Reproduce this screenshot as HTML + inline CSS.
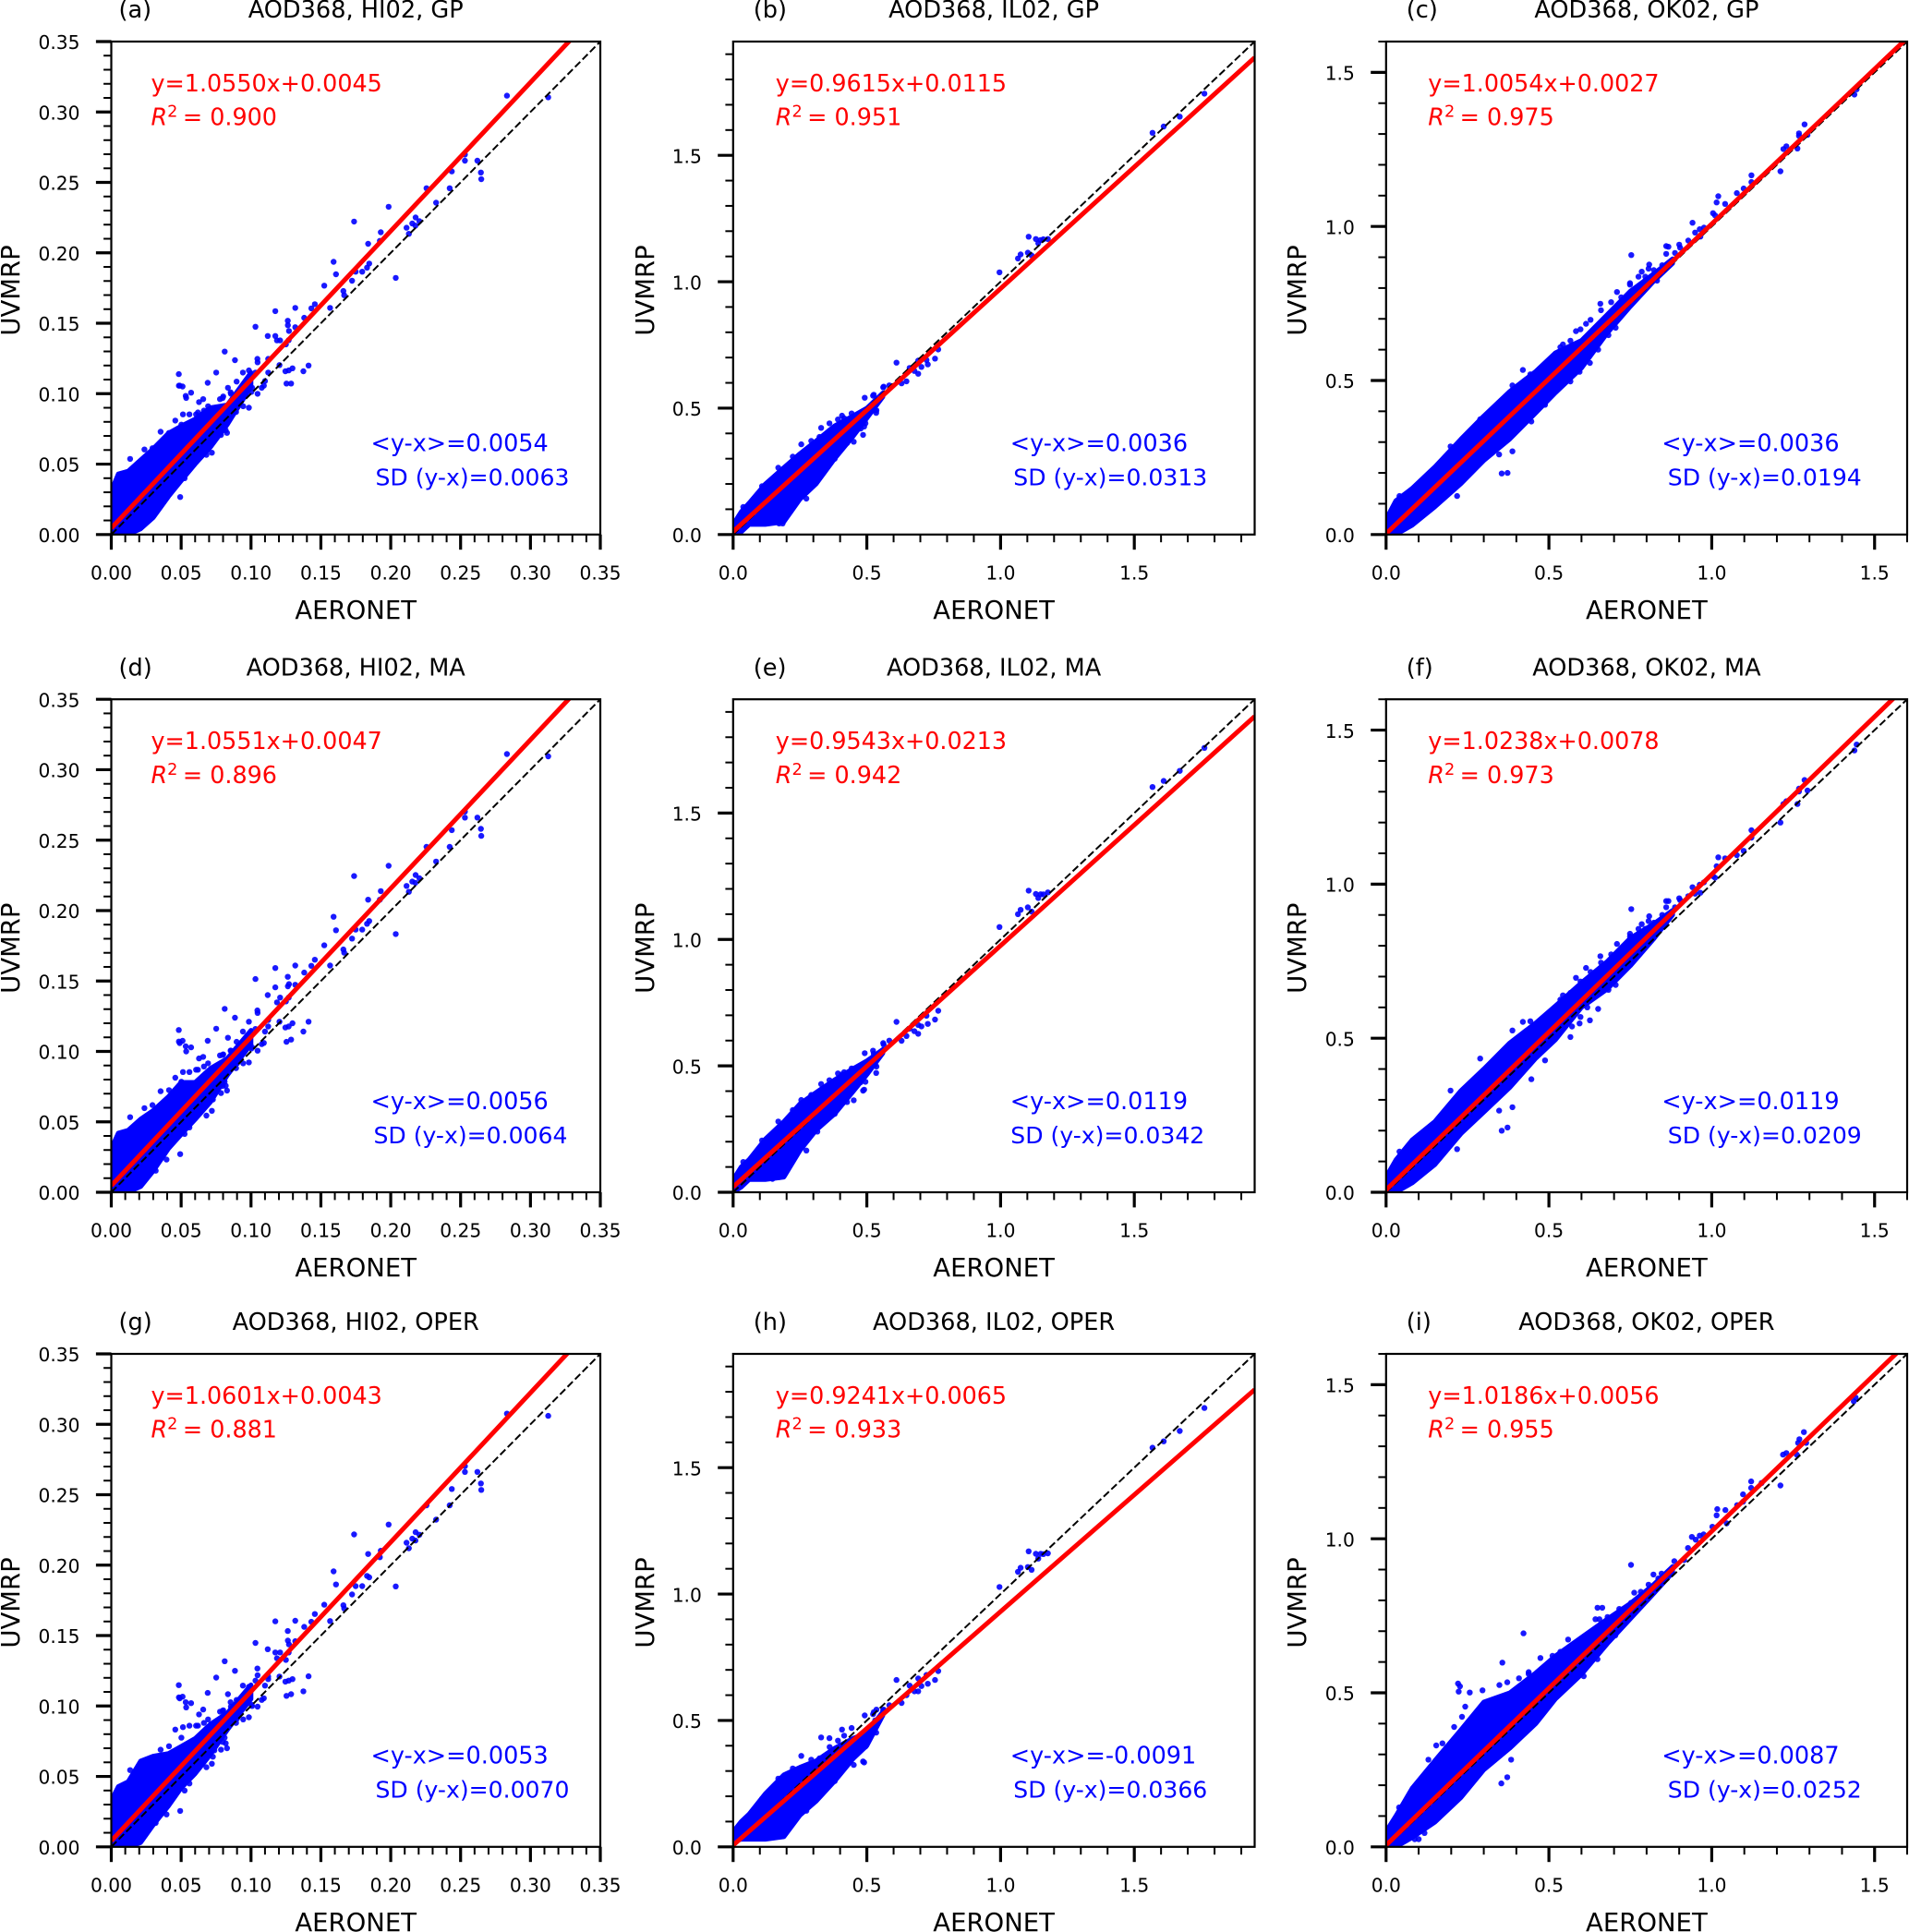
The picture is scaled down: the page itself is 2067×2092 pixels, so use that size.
<!DOCTYPE html>
<html lang="en">
<head>
<meta charset="utf-8">
<title>AOD368 scatter comparison: UVMRP vs AERONET</title>
<style>
html,body{margin:0;padding:0;background:#fff;}
svg{display:block;}
text{font-family:"DejaVu Sans","Liberation Sans",sans-serif;fill:#000;}
.title{font-size:25.6px;text-anchor:middle;}
.plabel{font-size:25.6px;}
.axt{font-size:27.5px;text-anchor:middle;}
.red{font-size:25.4px;fill:#f00;}
.blue{font-size:25.5px;fill:#00f;}
.sd{font-size:25.1px;fill:#00f;}
.tick{font-size:20.2px;}
.frame{fill:none;stroke:#000;stroke-width:2.2;}
</style>
</head>
<body>
<svg id="figure" xmlns="http://www.w3.org/2000/svg" width="2067" height="2092" viewBox="0 0 2067 2092">
<defs>
<clipPath id="clip-c1"><rect width="529.5" height="533.8"/></clipPath>
<clipPath id="clip-c2"><rect width="564.7" height="533.8"/></clipPath>
<clipPath id="clip-c3"><rect width="564.2" height="533.8"/></clipPath>
</defs>
<rect width="2067" height="2092" fill="#fff"/>

<g id="panel-a" transform="translate(120.5,45)">
<g id="marks-a" clip-path="url(#clip-c1)"></g>
<rect class="frame" width="529.5" height="533.8"/>
<g id="ticks-a"></g>
<text class="plabel" x="8" y="-25.9">(a)</text>
<text class="title" x="264.7" y="-25.9">AOD368, HI02, GP</text>
<text class="axt" x="264.7" y="625">AERONET</text>
<text class="axt" transform="translate(-99.5,269.5) rotate(-90)">UVMRP</text>
<text class="red" x="43" y="53.9">y=1.0550x+0.0045</text>
<text class="red" x="43" y="90.6"><tspan font-style="italic">R</tspan><tspan dy="-9" font-size="17.7">2</tspan><tspan dy="9" dx="-2.6"> = 0.900</tspan></text>
<text class="blue" x="281" y="443.6">&lt;y-x&gt;=0.0054</text>
<text class="sd" x="286" y="480.6">SD (y-x)=0.0063</text>
</g>

<g id="panel-b" transform="translate(793.8,45)">
<g id="marks-b" clip-path="url(#clip-c2)"></g>
<rect class="frame" width="564.7" height="533.8"/>
<g id="ticks-b"></g>
<text class="plabel" x="22" y="-25.9">(b)</text>
<text class="title" x="282.3" y="-25.9">AOD368, IL02, GP</text>
<text class="axt" x="282.3" y="625">AERONET</text>
<text class="axt" transform="translate(-86,269.5) rotate(-90)">UVMRP</text>
<text class="red" x="46" y="53.9">y=0.9615x+0.0115</text>
<text class="red" x="46" y="90.6"><tspan font-style="italic">R</tspan><tspan dy="-9" font-size="17.7">2</tspan><tspan dy="9" dx="-2.6"> = 0.951</tspan></text>
<text class="blue" x="300" y="443.6">&lt;y-x&gt;=0.0036</text>
<text class="sd" x="303.5" y="480.6">SD (y-x)=0.0313</text>
</g>

<g id="panel-c" transform="translate(1500.8,45)">
<g id="marks-c" clip-path="url(#clip-c3)"></g>
<rect class="frame" width="564.2" height="533.8"/>
<g id="ticks-c"></g>
<text class="plabel" x="22" y="-25.9">(c)</text>
<text class="title" x="282.1" y="-25.9">AOD368, OK02, GP</text>
<text class="axt" x="282.1" y="625">AERONET</text>
<text class="axt" transform="translate(-87,269.5) rotate(-90)">UVMRP</text>
<text class="red" x="45.5" y="53.9">y=1.0054x+0.0027</text>
<text class="red" x="45.5" y="90.6"><tspan font-style="italic">R</tspan><tspan dy="-9" font-size="17.7">2</tspan><tspan dy="9" dx="-2.6"> = 0.975</tspan></text>
<text class="blue" x="298.5" y="443.6">&lt;y-x&gt;=0.0036</text>
<text class="sd" x="305" y="480.6">SD (y-x)=0.0194</text>
</g>

<g id="panel-d" transform="translate(120.5,757.2)">
<g id="marks-d" clip-path="url(#clip-c1)"></g>
<rect class="frame" width="529.5" height="533.8"/>
<g id="ticks-d"></g>
<text class="plabel" x="8" y="-25.9">(d)</text>
<text class="title" x="264.7" y="-25.9">AOD368, HI02, MA</text>
<text class="axt" x="264.7" y="625">AERONET</text>
<text class="axt" transform="translate(-99.5,269.5) rotate(-90)">UVMRP</text>
<text class="red" x="43" y="53.9">y=1.0551x+0.0047</text>
<text class="red" x="43" y="90.6"><tspan font-style="italic">R</tspan><tspan dy="-9" font-size="17.7">2</tspan><tspan dy="9" dx="-2.6"> = 0.896</tspan></text>
<text class="blue" x="281" y="443.6">&lt;y-x&gt;=0.0056</text>
<text class="sd" x="284" y="480.6">SD (y-x)=0.0064</text>
</g>

<g id="panel-e" transform="translate(793.8,757.2)">
<g id="marks-e" clip-path="url(#clip-c2)"></g>
<rect class="frame" width="564.7" height="533.8"/>
<g id="ticks-e"></g>
<text class="plabel" x="22" y="-25.9">(e)</text>
<text class="title" x="282.3" y="-25.9">AOD368, IL02, MA</text>
<text class="axt" x="282.3" y="625">AERONET</text>
<text class="axt" transform="translate(-86,269.5) rotate(-90)">UVMRP</text>
<text class="red" x="46" y="53.9">y=0.9543x+0.0213</text>
<text class="red" x="46" y="90.6"><tspan font-style="italic">R</tspan><tspan dy="-9" font-size="17.7">2</tspan><tspan dy="9" dx="-2.6"> = 0.942</tspan></text>
<text class="blue" x="300" y="443.6">&lt;y-x&gt;=0.0119</text>
<text class="sd" x="300.5" y="480.6">SD (y-x)=0.0342</text>
</g>

<g id="panel-f" transform="translate(1500.8,757.2)">
<g id="marks-f" clip-path="url(#clip-c3)"></g>
<rect class="frame" width="564.2" height="533.8"/>
<g id="ticks-f"></g>
<text class="plabel" x="22" y="-25.9">(f)</text>
<text class="title" x="282.1" y="-25.9">AOD368, OK02, MA</text>
<text class="axt" x="282.1" y="625">AERONET</text>
<text class="axt" transform="translate(-87,269.5) rotate(-90)">UVMRP</text>
<text class="red" x="45.5" y="53.9">y=1.0238x+0.0078</text>
<text class="red" x="45.5" y="90.6"><tspan font-style="italic">R</tspan><tspan dy="-9" font-size="17.7">2</tspan><tspan dy="9" dx="-2.6"> = 0.973</tspan></text>
<text class="blue" x="298.5" y="443.6">&lt;y-x&gt;=0.0119</text>
<text class="sd" x="305" y="480.6">SD (y-x)=0.0209</text>
</g>

<g id="panel-g" transform="translate(120.5,1466)">
<g id="marks-g" clip-path="url(#clip-c1)"></g>
<rect class="frame" width="529.5" height="533.8"/>
<g id="ticks-g"></g>
<text class="plabel" x="8" y="-25.9">(g)</text>
<text class="title" x="264.7" y="-25.9">AOD368, HI02, OPER</text>
<text class="axt" x="264.7" y="625">AERONET</text>
<text class="axt" transform="translate(-99.5,269.5) rotate(-90)">UVMRP</text>
<text class="red" x="43" y="53.9">y=1.0601x+0.0043</text>
<text class="red" x="43" y="90.6"><tspan font-style="italic">R</tspan><tspan dy="-9" font-size="17.7">2</tspan><tspan dy="9" dx="-2.6"> = 0.881</tspan></text>
<text class="blue" x="281" y="443.6">&lt;y-x&gt;=0.0053</text>
<text class="sd" x="286" y="480.6">SD (y-x)=0.0070</text>
</g>

<g id="panel-h" transform="translate(793.8,1466)">
<g id="marks-h" clip-path="url(#clip-c2)"></g>
<rect class="frame" width="564.7" height="533.8"/>
<g id="ticks-h"></g>
<text class="plabel" x="22" y="-25.9">(h)</text>
<text class="title" x="282.3" y="-25.9">AOD368, IL02, OPER</text>
<text class="axt" x="282.3" y="625">AERONET</text>
<text class="axt" transform="translate(-86,269.5) rotate(-90)">UVMRP</text>
<text class="red" x="46" y="53.9">y=0.9241x+0.0065</text>
<text class="red" x="46" y="90.6"><tspan font-style="italic">R</tspan><tspan dy="-9" font-size="17.7">2</tspan><tspan dy="9" dx="-2.6"> = 0.933</tspan></text>
<text class="blue" x="300" y="443.6">&lt;y-x&gt;=-0.0091</text>
<text class="sd" x="303.5" y="480.6">SD (y-x)=0.0366</text>
</g>

<g id="panel-i" transform="translate(1500.8,1466)">
<g id="marks-i" clip-path="url(#clip-c3)"></g>
<rect class="frame" width="564.2" height="533.8"/>
<g id="ticks-i"></g>
<text class="plabel" x="22" y="-25.9">(i)</text>
<text class="title" x="282.1" y="-25.9">AOD368, OK02, OPER</text>
<text class="axt" x="282.1" y="625">AERONET</text>
<text class="axt" transform="translate(-87,269.5) rotate(-90)">UVMRP</text>
<text class="red" x="45.5" y="53.9">y=1.0186x+0.0056</text>
<text class="red" x="45.5" y="90.6"><tspan font-style="italic">R</tspan><tspan dy="-9" font-size="17.7">2</tspan><tspan dy="9" dx="-2.6"> = 0.955</tspan></text>
<text class="blue" x="298.5" y="443.6">&lt;y-x&gt;=0.0087</text>
<text class="sd" x="305" y="480.6">SD (y-x)=0.0252</text>
</g>
</svg>

<script>
// ---- Values ----
const hiTickLabels = ['0.00','0.05','0.10','0.15','0.20','0.25','0.30','0.35'];
const ilTickLabels = ['0.0','0.5','1.0','1.5'];
const okTickLabels = ['0.0','0.5','1.0','1.5'];
const hiLimit = 0.35, ilLimit = 1.95, okLimit = 1.6;
const hiMinorStep = 0.01, ilMinorStep = 0.1, okMinorStep = 0.1;

const fitSlopes = [1.0550,0.9615,1.0054,1.0551,0.9543,1.0238,1.0601,0.9241,1.0186];
const fitIntercepts = [0.0045,0.0115,0.0027,0.0047,0.0213,0.0078,0.0043,0.0065,0.0056];

// Individually visible points, HI02 station (AERONET x shared across retrievals)
const hiX = [.2832,.3127,.2531,.2531,.2620,.2645,.2648,.2437,.2422,.2256,.2325,.1985,.1738,.1929,.1838,.1922,.2113,.2130,.2154,.2178,.2177,.2205,.1591,.1608,.1749,.1796,.1830,.1846,.1723,.2036,.1524,.1661,.1667,.1457,.1432,.1566,.1317,.1174,.1381,.1263,.1032,.1264,.1272,.1317,.1174,.1120,.1208,.1186,.1250,.1270,.0812,.1046,.1047,.0885,.0985,.1123,.1204,.1297,.1412,.1270,.1246,.1123,.0751,.1032,.0942,.1100,.0483,.1375,.0690,.0835,.0484,.0510,.0490,.0533,.0571,.0536,.0897,.1254,.1287,.1077,.0854,.0950,.1008,.0778,.0801,.0628,.0658,.0985,.0893,.0607,.0663,.0513,.0559,.0458,.0353,.0785,.0819,.0828,.0727,.0720,.0681,.0617,.0295,.0237,.0135,.0493,.0318,.0232,.0395,.0559,.0525,.0797,.0856,.0944,.0767,.0900,.1003,.1047,.0974,.1092,.0693,.0620,.0502,.0413,.0679,.0797,.0811,.0738];
const hiYgp = [.3116,.3104,.2698,.2654,.2654,.2570,.2523,.2578,.2459,.2459,.2356,.2327,.2222,.2146,.2064,.2085,.2178,.2135,.2208,.2251,.2193,.2225,.1936,.1848,.1866,.1866,.1895,.1924,.1802,.1822,.1767,.1729,.1699,.1635,.1606,.1609,.1609,.1586,.1539,.1518,.1475,.1486,.1445,.1472,.1410,.1410,.1378,.1378,.1350,.1380,.1299,.1247,.1223,.1238,.1165,.1247,.1203,.1180,.1200,.1165,.1159,.1150,.1150,.1150,.1150,.1090,.1139,.1159,.1077,.1042,.1057,.1051,.1057,.0984,.1007,.0970,.1086,.1072,.1072,.1042,.1010,.1020,.1042,.0961,.0980,.0940,.0961,.0900,.0870,.0853,.0880,.0853,.0853,.0809,.0730,.0707,.0740,.0722,.0657,.0581,.0566,.0575,.0613,.0604,.0537,.0266,.0161,.0108,.0260,.0470,.0400,.0969,.0999,.0911,.0896,.0911,.1013,.0999,.1028,.1057,.0911,.0867,.0780,.0721,.0721,.0750,.0780,.0692];
const hiYma = [.3111,.3095,.2703,.2660,.2660,.2580,.2530,.2571,.2452,.2452,.2348,.2318,.2245,.2138,.2077,.2077,.2175,.2133,.2206,.2252,.2197,.2229,.1956,.1860,.1865,.1865,.1906,.1926,.1801,.1833,.1753,.1724,.1701,.1651,.1608,.1610,.1610,.1592,.1560,.1530,.1514,.1462,.1478,.1473,.1455,.1400,.1382,.1348,.1355,.1382,.1302,.1291,.1273,.1239,.1211,.1223,.1211,.1200,.1211,.1177,.1170,.1177,.1161,.1159,.1141,.1141,.1152,.1141,.1075,.1097,.1070,.1075,.1059,.1036,.1029,.1000,.1068,.1068,.1084,.1052,.1006,.1029,.1029,.0972,.0979,.0950,.0961,.0922,.0881,.0870,.0893,.0854,.0854,.0813,.0717,.0704,.0756,.0722,.0658,.0578,.0544,.0551,.0619,.0597,.0533,.0271,.0153,.0091,.0232,.0460,.0414,.0975,.1005,.0915,.0900,.0915,.1020,.1005,.1030,.1060,.0915,.0870,.0785,.0725,.0725,.0755,.0785,.0695];
const hiYoper = [.3076,.3060,.2703,.2662,.2662,.2580,.2534,.2541,.2425,.2425,.2323,.2288,.2218,.2102,.2079,.2056,.2159,.2120,.2188,.2234,.2175,.2216,.1956,.1863,.1851,.1851,.1924,.1913,.1792,.1849,.1719,.1715,.1692,.1653,.1598,.1603,.1605,.1601,.1562,.1532,.1448,.1464,.1437,.1460,.1380,.1403,.1380,.1339,.1327,.1380,.1318,.1266,.1218,.1250,.1136,.1191,.1209,.1191,.1211,.1180,.1173,.1209,.1202,.1180,.1145,.1145,.1148,.1104,.1093,.1084,.1061,.1066,.1054,.1027,.1020,.0990,.1043,.1072,.1084,.1043,.1027,.1031,.1000,.0960,.0970,.0940,.0975,.0920,.0880,.0860,.0880,.0850,.0860,.0833,.0690,.0690,.0735,.0700,.0640,.0590,.0565,.0550,.0620,.0600,.0545,.0255,.0170,.0090,.0230,.0450,.0400,.0965,.0995,.0905,.0890,.0910,.1010,.0995,.1025,.1055,.0905,.0860,.0775,.0715,.0715,.0745,.0775,.0685];

// Individually visible points, IL02 station
const ilX = [1.762,1.670,1.610,1.568,.996,1.065,1.075,1.102,1.116,1.105,1.132,1.141,1.150,1.177,1.160,.611,.767,.755,.728,.704,.692,.678,.660,.692,.648,.630,.723,.563,.526,.536,.535,.495,.486,.490,.451,.426,.495,.329,.255,.360,.407,.443,.274,.185,.172,.147,.177,.380,.020,.392,.415,.361,.323,.292,.223,.169,.108,.038,.315,.369,.415,.477,.531,.492,.523,.561,.584];
const ilYgp = [1.744,1.653,1.614,1.589,1.037,1.092,1.108,1.115,1.104,1.178,1.169,1.152,1.165,1.169,1.168,.680,.732,.696,.673,.663,.636,.647,.659,.688,.606,.598,.690,.585,.553,.491,.481,.470,.394,.427,.367,.362,.440,.422,.357,.440,.470,.479,.142,.044,.044,.050,.077,.300,.050,.455,.460,.411,.386,.370,.308,.264,.191,.109,.223,.329,.370,.419,.492,.541,.549,.582,.590];
const ilYma = [1.758,1.667,1.627,1.603,1.049,1.100,1.117,1.127,1.110,1.193,1.180,1.164,1.179,1.186,1.178,.674,.718,.683,.666,.656,.627,.637,.647,.662,.618,.599,.698,.584,.548,.497,.472,.468,.402,.406,.364,.357,.437,.428,.365,.443,.466,.490,.165,.076,.060,.053,.085,.310,.055,.470,.475,.425,.400,.385,.325,.280,.205,.120,.240,.345,.385,.435,.505,.550,.560,.590,.600];
const ilYoper = [1.736,1.645,1.604,1.579,1.028,1.088,1.104,1.107,1.096,1.169,1.159,1.140,1.159,1.161,1.158,.660,.695,.660,.645,.636,.615,.615,.638,.666,.600,.569,.680,.543,.533,.543,.452,.397,.338,.334,.324,.324,.400,.433,.360,.430,.464,.470,.143,.052,.052,.044,.060,.260,.045,.420,.440,.395,.350,.345,.310,.270,.190,.100,.200,.300,.350,.400,.500,.520,.525,.540,.560];

// Individually visible points, OK02 station (GP and MA)
const okX = [1.438,1.445,1.285,1.268,1.268,1.294,1.229,1.220,1.263,1.211,1.122,1.122,1.098,1.077,1.020,1.015,1.041,1.004,1.010,.941,.976,.963,.949,.965,.928,.900,.903,.860,.867,.860,.887,.753,.848,.832,.808,.785,.749,.709,.658,.705,.683,.651,.626,.614,.583,.543,.594,.566,.420,.443,.488,.388,.446,.388,.355,.373,.347,.218,.198,.289,.041,.806,.775,.796,.822,.749,.764,.722,.691,.660,.628,.597,.566,.535,.702,.681,.618,.597,.571];
const okYgp = [1.428,1.445,1.331,1.302,1.294,1.297,1.260,1.251,1.253,1.179,1.166,1.144,1.123,1.108,1.098,1.078,1.073,1.043,1.036,1.012,.996,.991,.980,.967,.954,.941,.931,.936,.934,.911,.914,.907,.874,.824,.876,.853,.816,.787,.749,.671,.647,.600,.557,.684,.660,.617,.528,.497,.534,.520,.421,.484,.367,.270,.198,.200,.260,.125,.286,.374,.125,.863,.837,.837,.858,.811,.790,.770,.754,.728,.697,.666,.629,.608,.707,.676,.582,.551,.520];
const okYma = [1.434,1.453,1.338,1.310,1.301,1.304,1.269,1.260,1.260,1.200,1.175,1.151,1.108,1.094,1.087,1.058,1.084,1.026,1.021,.990,1.006,.998,.969,.972,.961,.954,.948,.945,.945,.925,.925,.919,.900,.844,.896,.870,.839,.806,.766,.673,.657,.595,.558,.728,.696,.639,.548,.504,.553,.555,.428,.525,.367,.276,.200,.210,.265,.140,.330,.434,.132,.880,.855,.855,.875,.830,.808,.790,.772,.745,.715,.684,.647,.625,.725,.694,.600,.569,.538];

// Individually visible points, OK02 station (OPER)
const okOperX = [1.442,1.436,1.283,1.269,1.265,1.290,1.229,1.219,1.261,1.211,1.121,1.121,1.153,1.096,1.096,1.078,1.017,1.015,1.042,1.046,1.002,.939,.975,.963,.951,.927,.885,.915,.821,.846,.806,.836,.752,.782,.762,.752,.704,.649,.664,.643,.605,.535,.474,.422,.357,.221,.227,.223,.257,.296,.348,.372,.408,.438,.607,.649,.565,.384,.354,.372,.243,.233,.154,.173,.130,.040,.088,.100,.118,.209,.680,.655,.559,.511,.438,.716,.631,.535];
const okYoper = [1.458,1.446,1.346,1.323,1.311,1.311,1.278,1.273,1.273,1.173,1.186,1.165,1.181,1.144,1.120,1.109,1.096,1.076,1.093,1.050,1.039,1.006,1.014,1.010,.997,.970,.927,.931,.884,.887,.851,.871,.915,.828,.825,.792,.686,.776,.776,.739,.673,.633,.613,.693,.598,.530,.521,.504,.501,.508,.525,.534,.547,.567,.554,.609,.561,.283,.206,.226,.455,.422,.329,.336,.283,.128,.025,.025,.045,.389,.746,.739,.673,.620,.561,.772,.693,.600];

// Where points merge into a solid mass: AERONET positions with lower/upper UVMRP edges
const hiCoreX = [0,.005,.012,.021,.03,.041,.05,.06,.071,.083,.1];
const hiCoreLoGp = [0,0,0,.004,.012,.027,.038,.050,.062,.078,.105];
const hiCoreHiGp = [.031,.043,.045,.053,.061,.072,.077,.082,.090,.092,.115];
const hiCoreLoMa = [0,0,0,.004,.015,.031,.041,.0517,.064,.083,.105];
const hiCoreHiMa = [.031,.042,.044,.052,.058,.068,.078,.078,.088,.095,.115];
const hiCoreLoOper = [0,0,0,.003,.0155,.0291,.0417,.0519,.0656,.0830,.105];
const hiCoreHiOper = [.033,.0428,.0462,.0610,.0644,.0663,.0713,.0770,.0872,.0950,.115];

const ilCoreX = [0,.03,.06,.12,.19,.25,.31,.38,.45,.5,.56];
const ilCoreLoGp = [0,.01,.04,.04,.05,.14,.20,.30,.39,.46,.545];
const ilCoreHiGp = [.04,.09,.125,.2,.265,.32,.37,.43,.47,.5,.56];
const ilCoreLoMa = [0,.02,.05,.05,.06,.165,.245,.31,.40,.465,.55];
const ilCoreHiMa = [.05,.10,.13,.21,.28,.35,.395,.445,.49,.52,.565];
const ilCoreLoOper = [.02,.03,.03,.03,.04,.125,.18,.26,.35,.40,.52];
const ilCoreHiOper = [.06,.10,.13,.21,.285,.315,.34,.39,.43,.45,.535];

const okCoreX = [0,.03,.08,.15,.23,.3,.38,.46,.52,.6,.68,.75,.82,.88];
const okCoreLoGp = [0,0,.03,.09,.165,.24,.31,.395,.46,.54,.655,.74,.82,.88];
const okCoreHiGp = [.05,.11,.15,.22,.31,.385,.465,.53,.59,.63,.715,.79,.845,.895];
const okCoreLoMa = [0,0,.03,.09,.19,.26,.34,.435,.495,.60,.66,.735,.82,.90];
const okCoreHiMa = [.05,.105,.17,.23,.33,.40,.485,.55,.605,.68,.75,.825,.87,.915];
const okCoreLoOper = [0,0,.03,.08,.16,.25,.32,.40,.48,.56,.66,.74,.82,.89];
const okCoreHiOper = [.05,.10,.19,.28,.38,.47,.50,.565,.62,.68,.74,.79,.85,.91];

// ---- Layout ----
const PANEL_W = {c1:529.5, c2:564.7, c3:564.2};
const PANEL_H = 533.8;
const NS = 'http://www.w3.org/2000/svg';

function svgEl(tag, parent){
  const el = document.createElementNS(NS, tag);
  parent.appendChild(el);
  return el;
}

function drawPanel(id, idx, col, limit, tickLabels, minorStep, xs, ys, coreX, coreLo, coreHi){
  const w = PANEL_W[col], h = PANEL_H;
  const sx = v => v / limit * w;
  const sy = v => h - v / limit * h;
  const marks = document.getElementById('marks-' + id);
  const ticks = document.getElementById('ticks-' + id);

  // solid core of the scatter
  const upper = coreX.map((x,i) => sx(x).toFixed(1) + ',' + sy(coreHi[i]).toFixed(1));
  const lower = coreX.map((x,i) => sx(x).toFixed(1) + ',' + sy(coreLo[i]).toFixed(1)).reverse();
  const core = svgEl('polygon', marks);
  
  
  core.setAttribute('points', upper.concat(lower).join(' '));
  core.setAttribute('fill', '#00f');
  core.setAttribute('stroke', '#00f');
  core.setAttribute('stroke-width', '5');
  core.setAttribute('stroke-linejoin', 'round');

  // individual points
  xs.forEach((x,i) => {
    const dot = svgEl('circle', marks);
    
    
    dot.setAttribute('cx', sx(x).toFixed(1));
    dot.setAttribute('cy', sy(ys[i]).toFixed(1));
    dot.setAttribute('r', '3.2');
    dot.setAttribute('fill', '#00f');
    dot.setAttribute('fill-opacity', '0.9');
  });

  // 1:1 line
  const one = svgEl('line', marks);
  
  
  one.setAttribute('x1', sx(0));
  one.setAttribute('y1', sy(0));
  one.setAttribute('x2', sx(limit));
  one.setAttribute('y2', sy(limit));
  one.setAttribute('stroke', '#000');
  one.setAttribute('stroke-width', '2');
  one.setAttribute('stroke-dasharray', '8 3.5');

  // regression line
  const fit = svgEl('line', marks);
  
  
  fit.setAttribute('x1', sx(0));
  fit.setAttribute('y1', sy(fitIntercepts[idx]));
  fit.setAttribute('x2', sx(limit));
  fit.setAttribute('y2', sy(fitSlopes[idx] * limit + fitIntercepts[idx]));
  fit.setAttribute('stroke', '#f00');
  fit.setAttribute('stroke-width', '5');

  // major ticks + labels
  const majorVals = tickLabels.map(Number);
  tickLabels.forEach((label) => {
    const v = Number(label);
    const tx = svgEl('line', ticks);
    
    
    tx.setAttribute('x1', sx(v)); tx.setAttribute('x2', sx(v));
    tx.setAttribute('y1', h); tx.setAttribute('y2', h + 16.4);
    tx.setAttribute('stroke', '#000'); tx.setAttribute('stroke-width', '3.2');
    const ty = svgEl('line', ticks);
    
    
    ty.setAttribute('y1', sy(v)); ty.setAttribute('y2', sy(v));
    ty.setAttribute('x1', 0); ty.setAttribute('x2', -16.6);
    ty.setAttribute('stroke', '#000'); ty.setAttribute('stroke-width', '3.2');
    const lx = svgEl('text', ticks);
    
    
    lx.setAttribute('class', 'tick');
    lx.setAttribute('x', sx(v));
    lx.setAttribute('y', h + 48.6);
    lx.setAttribute('text-anchor', 'middle');
    lx.textContent = label;
    const ly = svgEl('text', ticks);
    
    
    ly.setAttribute('class', 'tick');
    ly.setAttribute('x', -34);
    ly.setAttribute('y', sy(v) + 8.2);
    ly.setAttribute('text-anchor', 'end');
    ly.textContent = label;
  });

  // minor ticks
  for (let k = 1; k * minorStep <= limit + 1e-9; k++) {
    const v = k * minorStep;
    if (majorVals.some(m => Math.abs(m - v) < 1e-6)) continue;
    const mx = svgEl('line', ticks);
    
    
    mx.setAttribute('x1', sx(v)); mx.setAttribute('x2', sx(v));
    mx.setAttribute('y1', h); mx.setAttribute('y2', h + 8.4);
    mx.setAttribute('stroke', '#000'); mx.setAttribute('stroke-width', '2');
    const my = svgEl('line', ticks);
    
    
    my.setAttribute('y1', sy(v)); my.setAttribute('y2', sy(v));
    my.setAttribute('x1', 0); my.setAttribute('x2', -8.4);
    my.setAttribute('stroke', '#000'); my.setAttribute('stroke-width', '2');
  }
}

drawPanel('a',0,'c1',hiLimit,hiTickLabels,hiMinorStep,hiX,hiYgp,hiCoreX,hiCoreLoGp,hiCoreHiGp);
drawPanel('b',1,'c2',ilLimit,ilTickLabels,ilMinorStep,ilX,ilYgp,ilCoreX,ilCoreLoGp,ilCoreHiGp);
drawPanel('c',2,'c3',okLimit,okTickLabels,okMinorStep,okX,okYgp,okCoreX,okCoreLoGp,okCoreHiGp);
drawPanel('d',3,'c1',hiLimit,hiTickLabels,hiMinorStep,hiX,hiYma,hiCoreX,hiCoreLoMa,hiCoreHiMa);
drawPanel('e',4,'c2',ilLimit,ilTickLabels,ilMinorStep,ilX,ilYma,ilCoreX,ilCoreLoMa,ilCoreHiMa);
drawPanel('f',5,'c3',okLimit,okTickLabels,okMinorStep,okX,okYma,okCoreX,okCoreLoMa,okCoreHiMa);
drawPanel('g',6,'c1',hiLimit,hiTickLabels,hiMinorStep,hiX,hiYoper,hiCoreX,hiCoreLoOper,hiCoreHiOper);
drawPanel('h',7,'c2',ilLimit,ilTickLabels,ilMinorStep,ilX,ilYoper,ilCoreX,ilCoreLoOper,ilCoreHiOper);
drawPanel('i',8,'c3',okLimit,okTickLabels,okMinorStep,okOperX,okYoper,okCoreX,okCoreLoOper,okCoreHiOper);
</script>
</body>
</html>
